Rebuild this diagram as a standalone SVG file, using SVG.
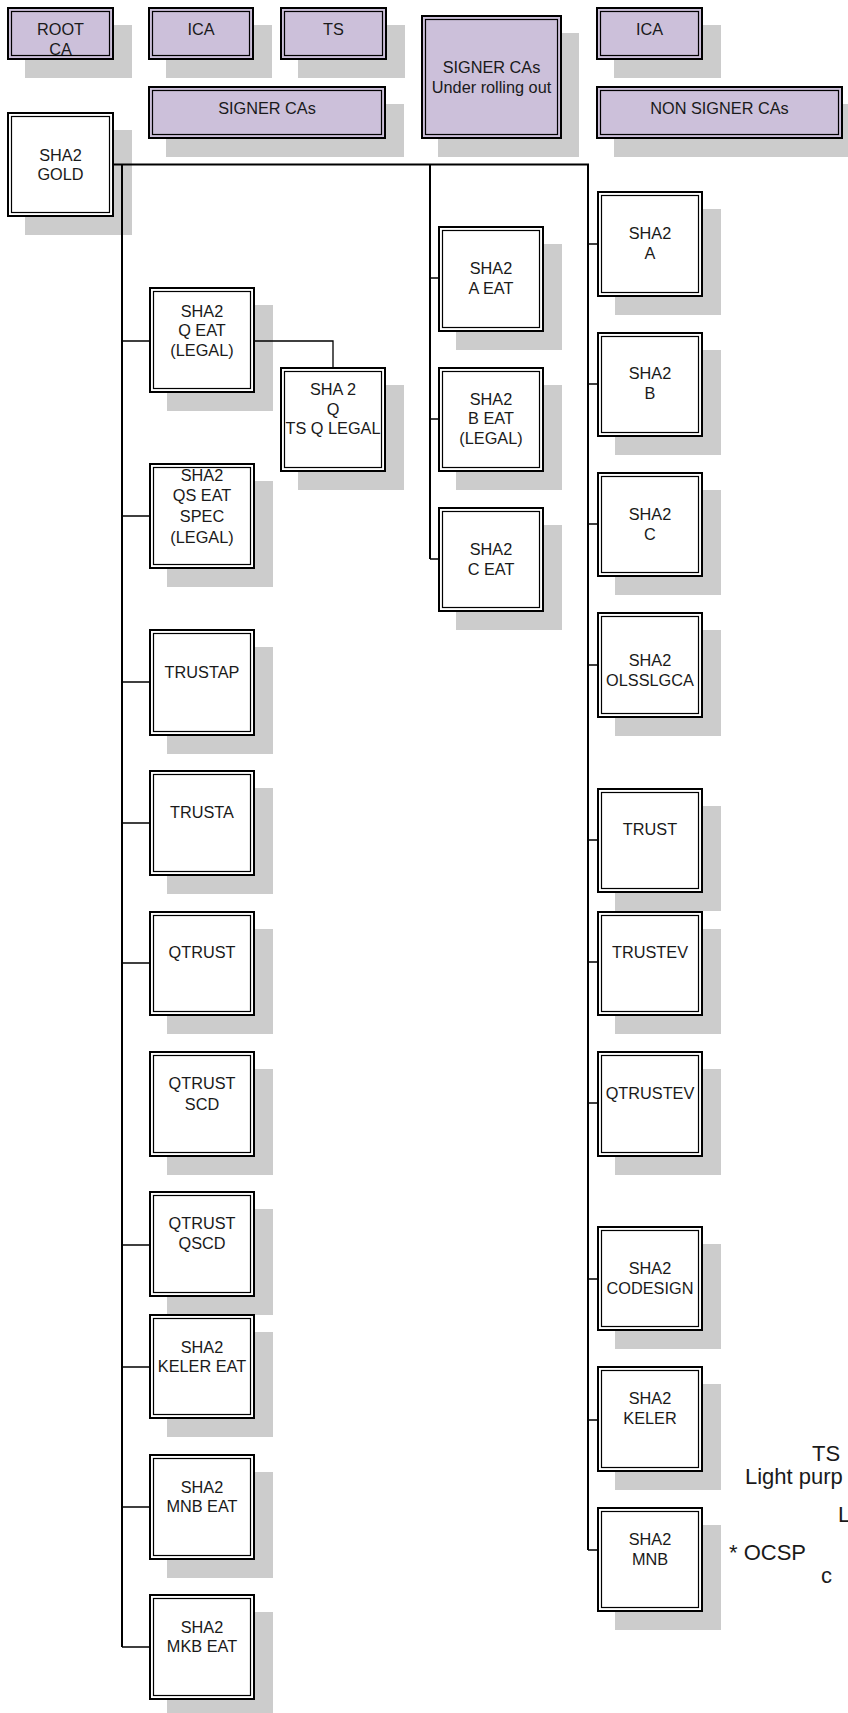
<svg xmlns="http://www.w3.org/2000/svg" width="848" height="1713" viewBox="0 0 848 1713">
<style>
.sh{fill:#cccccc}
.bo{stroke:#000;stroke-width:2}
.w{fill:#ffffff}
.p{fill:#ccc0da}
.bi{fill:none;stroke:#000;stroke-width:1.2}
text{font-family:"Liberation Sans",Arial,sans-serif;font-size:16.3px;fill:#1a1a1a;text-anchor:middle}
.big{font-size:22px;text-anchor:start}
.trunk{fill:none;stroke:#000;stroke-width:2}
.stub{fill:none;stroke:#000;stroke-width:1.3}
</style>
<rect x="0" y="0" width="848" height="1713" fill="#ffffff"/>
<g id="root-ca"><rect class="sh" x="25" y="25" width="107" height="53"/><rect class="bo p" x="8" y="8" width="105" height="51"/><rect class="bi" x="11.5" y="11.5" width="98" height="44"/><text x="60.5" y="35">ROOT</text><text x="60.5" y="55">CA</text></g>
<g id="ica-1"><rect class="sh" x="166" y="25" width="106" height="53"/><rect class="bo p" x="149" y="8" width="104" height="51"/><rect class="bi" x="152.5" y="11.5" width="97" height="44"/><text x="201" y="35">ICA</text></g>
<g id="ts"><rect class="sh" x="298" y="25" width="107" height="53"/><rect class="bo p" x="281" y="8" width="105" height="51"/><rect class="bi" x="284.5" y="11.5" width="98" height="44"/><text x="333.5" y="35">TS</text></g>
<g id="signer-cas"><rect class="sh" x="166" y="104" width="238" height="53"/><rect class="bo p" x="149" y="87" width="236" height="51"/><rect class="bi" x="152.5" y="90.5" width="229" height="44"/><text x="267" y="114">SIGNER CAs</text></g>
<g id="signer-cas-rolling"><rect class="sh" x="438" y="33" width="141" height="124"/><rect class="bo p" x="422" y="16" width="139" height="122"/><rect class="bi" x="425.5" y="19.5" width="132" height="115"/><text x="491.5" y="73">SIGNER CAs</text><text x="491.5" y="93">Under rolling out</text></g>
<g id="ica-2"><rect class="sh" x="614" y="25" width="107" height="53"/><rect class="bo p" x="597" y="8" width="105" height="51"/><rect class="bi" x="600.5" y="11.5" width="98" height="44"/><text x="649.5" y="35">ICA</text></g>
<g id="non-signer-cas"><rect class="sh" x="614" y="104" width="247" height="53"/><rect class="bo p" x="597" y="87" width="245" height="51"/><rect class="bi" x="600.5" y="90.5" width="238" height="44"/><text x="719.5" y="114">NON SIGNER CAs</text></g>
<g id="sha2-gold"><rect class="sh" x="25" y="130" width="107" height="105"/><rect class="bo w" x="8" y="113" width="105" height="103"/><rect class="bi" x="11.5" y="116.5" width="98" height="96"/><text x="60.5" y="161">SHA2</text><text x="60.5" y="180">GOLD</text></g>
<g id="sha2-q-eat"><rect class="sh" x="167" y="305" width="106" height="106"/><rect class="bo w" x="150" y="288" width="104" height="104"/><rect class="bi" x="153.5" y="291.5" width="97" height="97"/><text x="202" y="317">SHA2</text><text x="202" y="336">Q EAT</text><text x="202" y="356">(LEGAL)</text></g>
<g id="sha2-ts-q-legal"><rect class="sh" x="298" y="385" width="106" height="105"/><rect class="bo w" x="281" y="368" width="104" height="103"/><rect class="bi" x="284.5" y="371.5" width="97" height="96"/><text x="333" y="395">SHA 2</text><text x="333" y="415">Q</text><text x="333" y="434">TS Q LEGAL</text></g>
<g id="sha2-qs-eat-spec"><rect class="sh" x="167" y="481" width="106" height="106"/><rect class="bo w" x="150" y="464" width="104" height="104"/><rect class="bi" x="153.5" y="467.5" width="97" height="97"/><text x="202" y="481">SHA2</text><text x="202" y="501">QS EAT</text><text x="202" y="522">SPEC</text><text x="202" y="543">(LEGAL)</text></g>
<g id="trustap"><rect class="sh" x="167" y="647" width="106" height="107"/><rect class="bo w" x="150" y="630" width="104" height="105"/><rect class="bi" x="153.5" y="633.5" width="97" height="98"/><text x="202" y="678">TRUSTAP</text></g>
<g id="trusta"><rect class="sh" x="167" y="788" width="106" height="106"/><rect class="bo w" x="150" y="771" width="104" height="104"/><rect class="bi" x="153.5" y="774.5" width="97" height="97"/><text x="202" y="818">TRUSTA</text></g>
<g id="qtrust"><rect class="sh" x="167" y="929" width="106" height="105"/><rect class="bo w" x="150" y="912" width="104" height="103"/><rect class="bi" x="153.5" y="915.5" width="97" height="96"/><text x="202" y="958">QTRUST</text></g>
<g id="qtrust-scd"><rect class="sh" x="167" y="1069" width="106" height="106"/><rect class="bo w" x="150" y="1052" width="104" height="104"/><rect class="bi" x="153.5" y="1055.5" width="97" height="97"/><text x="202" y="1089">QTRUST</text><text x="202" y="1110">SCD</text></g>
<g id="qtrust-qscd"><rect class="sh" x="167" y="1209" width="106" height="106"/><rect class="bo w" x="150" y="1192" width="104" height="104"/><rect class="bi" x="153.5" y="1195.5" width="97" height="97"/><text x="202" y="1229">QTRUST</text><text x="202" y="1249">QSCD</text></g>
<g id="sha2-keler-eat"><rect class="sh" x="167" y="1332" width="106" height="105"/><rect class="bo w" x="150" y="1315" width="104" height="103"/><rect class="bi" x="153.5" y="1318.5" width="97" height="96"/><text x="202" y="1353">SHA2</text><text x="202" y="1372">KELER EAT</text></g>
<g id="sha2-mnb-eat"><rect class="sh" x="167" y="1472" width="106" height="106"/><rect class="bo w" x="150" y="1455" width="104" height="104"/><rect class="bi" x="153.5" y="1458.5" width="97" height="97"/><text x="202" y="1493">SHA2</text><text x="202" y="1512">MNB EAT</text></g>
<g id="sha2-mkb-eat"><rect class="sh" x="167" y="1612" width="106" height="106"/><rect class="bo w" x="150" y="1595" width="104" height="104"/><rect class="bi" x="153.5" y="1598.5" width="97" height="97"/><text x="202" y="1633">SHA2</text><text x="202" y="1652">MKB EAT</text></g>
<g id="sha2-a-eat"><rect class="sh" x="456" y="244" width="106" height="106"/><rect class="bo w" x="439" y="227" width="104" height="104"/><rect class="bi" x="442.5" y="230.5" width="97" height="97"/><text x="491" y="274">SHA2</text><text x="491" y="294">A EAT</text></g>
<g id="sha2-b-eat"><rect class="sh" x="456" y="385" width="106" height="105"/><rect class="bo w" x="439" y="368" width="104" height="103"/><rect class="bi" x="442.5" y="371.5" width="97" height="96"/><text x="491" y="405">SHA2</text><text x="491" y="424">B EAT</text><text x="491" y="444">(LEGAL)</text></g>
<g id="sha2-c-eat"><rect class="sh" x="456" y="525" width="106" height="105"/><rect class="bo w" x="439" y="508" width="104" height="103"/><rect class="bi" x="442.5" y="511.5" width="97" height="96"/><text x="491" y="555">SHA2</text><text x="491" y="575">C EAT</text></g>
<g id="sha2-a"><rect class="sh" x="615" y="209" width="106" height="106"/><rect class="bo w" x="598" y="192" width="104" height="104"/><rect class="bi" x="601.5" y="195.5" width="97" height="97"/><text x="650" y="239">SHA2</text><text x="650" y="259">A</text></g>
<g id="sha2-b"><rect class="sh" x="615" y="350" width="106" height="105"/><rect class="bo w" x="598" y="333" width="104" height="103"/><rect class="bi" x="601.5" y="336.5" width="97" height="96"/><text x="650" y="379">SHA2</text><text x="650" y="399">B</text></g>
<g id="sha2-c"><rect class="sh" x="615" y="490" width="106" height="105"/><rect class="bo w" x="598" y="473" width="104" height="103"/><rect class="bi" x="601.5" y="476.5" width="97" height="96"/><text x="650" y="520">SHA2</text><text x="650" y="540">C</text></g>
<g id="sha2-olsslgca"><rect class="sh" x="615" y="630" width="106" height="106"/><rect class="bo w" x="598" y="613" width="104" height="104"/><rect class="bi" x="601.5" y="616.5" width="97" height="97"/><text x="650" y="666">SHA2</text><text x="650" y="686">OLSSLGCA</text></g>
<g id="trust"><rect class="sh" x="615" y="806" width="106" height="105"/><rect class="bo w" x="598" y="789" width="104" height="103"/><rect class="bi" x="601.5" y="792.5" width="97" height="96"/><text x="650" y="835">TRUST</text></g>
<g id="trustev"><rect class="sh" x="615" y="929" width="106" height="105"/><rect class="bo w" x="598" y="912" width="104" height="103"/><rect class="bi" x="601.5" y="915.5" width="97" height="96"/><text x="650" y="958">TRUSTEV</text></g>
<g id="qtrustev"><rect class="sh" x="615" y="1069" width="106" height="106"/><rect class="bo w" x="598" y="1052" width="104" height="104"/><rect class="bi" x="601.5" y="1055.5" width="97" height="97"/><text x="650" y="1099">QTRUSTEV</text></g>
<g id="sha2-codesign"><rect class="sh" x="615" y="1244" width="106" height="105"/><rect class="bo w" x="598" y="1227" width="104" height="103"/><rect class="bi" x="601.5" y="1230.5" width="97" height="96"/><text x="650" y="1274">SHA2</text><text x="650" y="1294">CODESIGN</text></g>
<g id="sha2-keler"><rect class="sh" x="615" y="1384" width="106" height="106"/><rect class="bo w" x="598" y="1367" width="104" height="104"/><rect class="bi" x="601.5" y="1370.5" width="97" height="97"/><text x="650" y="1404">SHA2</text><text x="650" y="1424">KELER</text></g>
<g id="sha2-mnb"><rect class="sh" x="615" y="1525" width="106" height="105"/><rect class="bo w" x="598" y="1508" width="104" height="103"/><rect class="bi" x="601.5" y="1511.5" width="97" height="96"/><text x="650" y="1545">SHA2</text><text x="650" y="1565">MNB</text></g>
<g id="connectors">
<path class="trunk" d="M114 164.5 H588 V1550 M122 164.5 V1647 M430 164.5 V559"/>
<path class="stub" d="M122 341 H149 M122 516 H149 M122 682 H149 M122 823 H149 M122 963 H149 M122 1245 H149 M122 1367 H149 M122 1507 H149 M122 1647 H149"/>
<path class="stub" d="M254 341 H333 V367"/>
<path class="stub" d="M430 278 H438 M430 419 H438 M430 559 H438"/>
<path class="stub" d="M588 244 H597 M588 384 H597 M588 524 H597 M588 665 H597 M588 840 H597 M588 962 H597 M588 1103 H597 M588 1279 H597 M588 1420 H597 M588 1550 H597"/>
</g>
<g id="legend">
<text class="big" x="812" y="1461">TS</text>
<text class="big" x="745" y="1484">Light purp</text>
<text class="big" x="838" y="1522">L</text>
<text class="big" x="729" y="1560">* OCSP</text>
<text class="big" x="821" y="1583">c</text>
</g>
</svg>
